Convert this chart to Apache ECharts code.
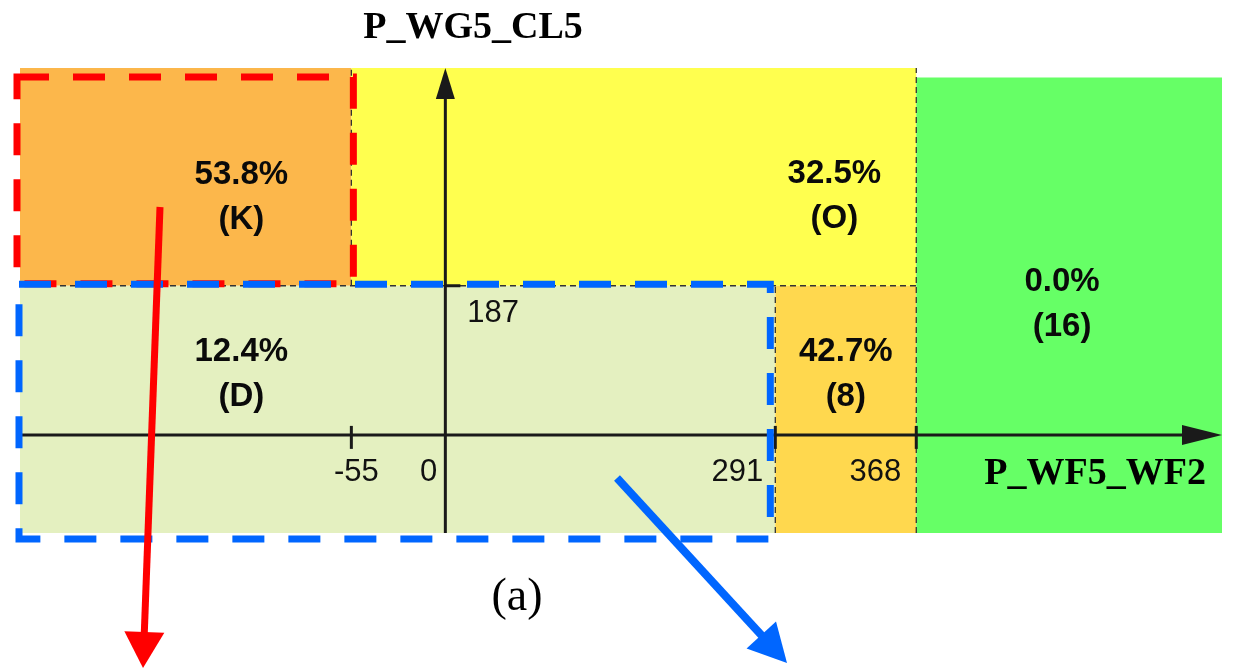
<!DOCTYPE html>
<html><head><meta charset="utf-8">
<script src="https://cdn.jsdelivr.net/npm/echarts@6.0.0/dist/echarts.min.js"></script>
<style>html,body{margin:0;padding:0;background:#fff}#c{width:1234px;height:670px}</style>
</head><body><div id="c"></div>
<script>
// ---------- data ----------
const xTickValues = [-55, 0, 291, 368];
const xTickLabels = ['-55', '0', '291', '368'];
const yTickValues = [187];
const yTickLabels = ['187'];
const xMin = -236, xMax = 535, yMin = -123, yMax = 460;
const regionNames = ['K', 'O', 'D', '8', '16'];
const regionPct = [53.8, 32.5, 12.4, 42.7, 0.0];
const regionX0 = [xMin, -55, xMin, 291, 368];
const regionX1 = [-55, 368, 291, 368, xMax];
const regionY0 = [187, 187, yMin, yMin, yMin];
const regionY1 = [yMax, yMax, 187, 187, 448];
const boundX0 = [-55, xMin, 291, 368];
const boundX1 = [-55, 368, 291, 368];
const boundY0 = [187, 187, yMin, yMin];
const boundY1 = [yMax, 187, 187, yMax];
const highlightRegions = ['K', 'D'];

// ---------- styles / layout ----------
const regionColors = {K: '#FCB74B', O: '#FFFF4F', D: '#E4F0C0', '8': '#FFD84E', '16': '#66FF66'};
const labelFrac = {K: [0.668, 0.594], O: [0.855, 0.589], D: [0.293, 0.36], '8': [0.5, 0.36], '16': [0.477, 0.499]};
const xLabelStyle = {'-55': ['center', 5], '0': ['right', -8], '291': ['right', -12], '368': ['right', -15]};
const overlayStyle = {
  K: {color: '#FF0000', off: [-3, 9, 2, -2]},
  D: {color: '#0066FF', off: [-1, -1.5, -5, 6]}
};
const SANS = '"Liberation Sans", Arial, Helvetica, sans-serif';
const SERIF = '"Liberation Serif", "Times New Roman", serif';
const AXIS_COLOR = '#1a1a1a';

const chart = echarts.init(document.getElementById('c'), null, {renderer: 'canvas'});

function rectOf(api, x0, x1, y0, y1) {
  const a = api.coord([x0, y1]);
  const b = api.coord([x1, y0]);
  return {x: a[0], y: a[1], width: b[0] - a[0], height: b[1] - a[1]};
}

function arrowParts(x1, y1, x2, y2, color, lw, headLen, headW, z) {
  const dx = x2 - x1, dy = y2 - y1, L = Math.hypot(dx, dy);
  const ux = dx / L, uy = dy / L;
  const bx = x2 - ux * headLen, by = y2 - uy * headLen;
  const px = -uy * headW / 2, py = ux * headW / 2;
  return [
    {type: 'line', z: z, shape: {x1: x1, y1: y1, x2: bx + ux * 2, y2: by + uy * 2}, style: {stroke: color, lineWidth: lw}},
    {type: 'polygon', z: z, shape: {points: [[x2, y2], [bx + px, by + py], [bx - px, by - py]]}, style: {fill: color}}
  ];
}

const option = {
  animation: false,
  backgroundColor: '#ffffff',
  grid: {left: 20, right: 12, top: 68, bottom: 137, containLabel: false},
  xAxis: {
    type: 'value', min: xMin, max: xMax,
    breaks: [{start: -45, end: -15, gap: 26.34}, {start: 40, end: 250, gap: 99.24}],
    breakArea: {show: false},
    axisLine: {show: false}, axisTick: {show: false}, axisLabel: {show: false}, splitLine: {show: false}
  },
  yAxis: {
    type: 'value', min: yMin, max: yMax,
    axisLine: {show: false}, axisTick: {show: false}, axisLabel: {show: false}, splitLine: {show: false}
  },
  graphic: [
    {type: 'text', z: 100, x: 473, y: 28, style: {text: 'P_WG5_CL5', font: 'bold 38px ' + SERIF, fill: '#000', align: 'center', verticalAlign: 'middle'}},
    {type: 'text', z: 100, x: 1206, y: 474, style: {text: 'P_WF5_WF2', font: 'bold 38px ' + SERIF, fill: '#000', align: 'right', verticalAlign: 'middle'}},
    {type: 'text', z: 100, x: 517, y: 598, style: {text: '(a)', font: '46px ' + SERIF, fill: '#000', align: 'center', verticalAlign: 'middle'}}
  ].concat(
    arrowParts(160, 207, 143, 668, '#FF0000', 7, 36, 40, 100),
    arrowParts(617, 478, 787, 663, '#0066FF', 8, 38, 40, 100)
  ),
  series: [
    {
      name: 'regions', type: 'custom', z: 1, silent: true,
      data: regionNames.map((n, i) => [regionX0[i], regionX1[i], regionY0[i], regionY1[i], i]),
      renderItem: function (params, api) {
        const i = api.value(4);
        const name = regionNames[i];
        const r = rectOf(api, api.value(0), api.value(1), api.value(2), api.value(3));
        const f = labelFrac[name];
        return {
          type: 'group',
          children: [
            {type: 'rect', shape: r, style: {fill: regionColors[name]}},
            {type: 'text', z2: 10, x: r.x + r.width * f[0], y: r.y + r.height * f[1],
              style: {text: regionPct[i].toFixed(1) + '%\n(' + name + ')', font: 'bold 33px ' + SANS,
                lineHeight: 45, fill: '#0a0a0a', align: 'center', verticalAlign: 'middle'}}
          ]
        };
      }
    },
    {
      name: 'boundaries', type: 'custom', z: 2, silent: true,
      data: boundX0.map((v, i) => [boundX0[i], boundX1[i], boundY0[i], boundY1[i]]),
      renderItem: function (params, api) {
        const a = api.coord([api.value(0), api.value(2)]);
        const b = api.coord([api.value(1), api.value(3)]);
        return {type: 'line', shape: {x1: a[0], y1: a[1], x2: b[0], y2: b[1]},
          style: {stroke: '#333', lineWidth: 1.3, lineDash: [6, 4]}};
      }
    },
    {
      name: 'axes', type: 'custom', z: 5, silent: true,
      data: [[xMin, 0, xMax, 0, 40, 20], [0, yMin, 0, yMax, 31, 19]],
      renderItem: function (params, api) {
        const a = api.coord([api.value(0), api.value(1)]);
        const b = api.coord([api.value(2), api.value(3)]);
        const dx = b[0] - a[0], dy = b[1] - a[1], L = Math.hypot(dx, dy);
        const ux = dx / L, uy = dy / L, hl = api.value(4), hw = api.value(5);
        const bx = b[0] - ux * hl, by = b[1] - uy * hl;
        const px = -uy * hw / 2, py = ux * hw / 2;
        return {type: 'group', children: [
          {type: 'line', shape: {x1: a[0], y1: a[1], x2: bx + ux * 2, y2: by + uy * 2}, style: {stroke: AXIS_COLOR, lineWidth: 3}},
          {type: 'polygon', shape: {points: [[b[0], b[1]], [bx + px, by + py], [bx - px, by - py]]}, style: {fill: AXIS_COLOR}}
        ]};
      }
    },
    {
      name: 'xTicks', type: 'custom', z: 6, silent: true,
      data: xTickValues.map((v, i) => [v, 0, i]),
      renderItem: function (params, api) {
        const i = api.value(2);
        const p = api.coord([api.value(0), api.value(1)]);
        const st = xLabelStyle[xTickLabels[i]] || ['right', -12];
        const children = [
          {type: 'text', x: p[0] + st[1], y: p[1] + 38,
            style: {text: xTickLabels[i], font: '31px ' + SANS, fill: '#111', align: st[0], verticalAlign: 'middle'}}
        ];
        if (api.value(0) !== 0) {
          children.push({type: 'line', shape: {x1: p[0], y1: p[1] - 9, x2: p[0], y2: p[1] + 14},
            style: {stroke: AXIS_COLOR, lineWidth: 3}});
        }
        return {type: 'group', children: children};
      }
    },
    {
      name: 'yTicks', type: 'custom', z: 6, silent: true,
      data: yTickValues.map((v, i) => [0, v, i]),
      renderItem: function (params, api) {
        const i = api.value(2);
        const p = api.coord([api.value(0), api.value(1)]);
        return {type: 'group', children: [
          {type: 'line', shape: {x1: p[0], y1: p[1], x2: p[0] + 15, y2: p[1]}, style: {stroke: AXIS_COLOR, lineWidth: 3}},
          {type: 'text', x: p[0] + 22, y: p[1] + 28,
            style: {text: yTickLabels[i], font: '31px ' + SANS, fill: '#111', align: 'left', verticalAlign: 'middle'}}
        ]};
      }
    },
    {
      name: 'highlights', type: 'custom', z: 8, silent: true,
      data: highlightRegions.map(n => {
        const i = regionNames.indexOf(n);
        return [regionX0[i], regionX1[i], regionY0[i], regionY1[i], i];
      }),
      renderItem: function (params, api) {
        const name = regionNames[api.value(4)];
        const s = overlayStyle[name];
        const r = rectOf(api, api.value(0), api.value(1), api.value(2), api.value(3));
        return {type: 'rect',
          shape: {x: r.x + s.off[0], y: r.y + s.off[1], width: r.width - s.off[0] + s.off[2], height: r.height - s.off[1] + s.off[3]},
          style: {fill: 'none', stroke: s.color, lineWidth: 7, lineDash: [32, 24]}};
      }
    }
  ]
};
chart.setOption(option);
</script>
</body></html>
